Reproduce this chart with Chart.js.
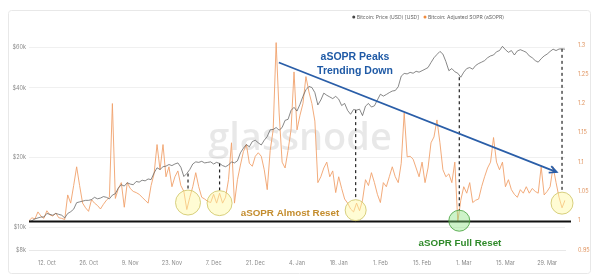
<!DOCTYPE html>
<html>
<head>
<meta charset="utf-8">
<script src="https://cdn.jsdelivr.net/npm/chart.js@4/dist/chart.umd.min.js"></script>
<style>
  html, body { margin: 0; padding: 0; background: #fff; }
</style>
</head>
<body>
<canvas id="chart" width="600" height="278"></canvas>
<script>
// daily values, 6 Oct 2020 .. 4 Apr 2021
const startDay = new Date(2020, 9, 6)
const months = ['Jan','Feb','Mar','Apr','May','Jun','Jul','Aug','Sep','Oct','Nov','Dec']

const asopr = [
  1.000,1.005,1.003,1.015,1.008,1.004,1.017,1.010,1.008,1.013,
  1.005,1.004,1.002,1.044,1.030,1.060,1.092,1.060,1.030,1.022,
  1.016,1.036,1.030,1.026,1.020,1.028,1.035,1.040,1.200,1.038,
  1.055,1.065,1.023,1.065,1.055,1.050,1.048,1.045,1.040,1.035,
  1.030,1.060,1.080,1.130,1.087,1.130,1.075,1.092,1.058,1.075,
  1.085,1.060,1.050,1.019,1.040,1.058,1.082,1.058,1.040,1.037,
  1.033,1.031,1.045,1.030,1.047,1.030,1.040,1.070,1.133,1.030,
  1.070,1.095,1.118,1.130,1.098,1.093,1.110,1.116,1.110,1.087,
  1.053,1.120,1.155,1.304,1.184,1.100,1.090,1.120,1.155,1.254,
  1.155,1.180,1.200,1.246,1.220,1.200,1.170,1.065,1.075,1.090,
  1.100,1.075,1.085,1.048,1.075,1.055,1.037,1.030,1.020,1.015,
  1.030,1.017,1.035,1.070,1.060,1.082,1.065,1.045,1.031,1.065,
  1.058,1.075,1.092,1.075,1.065,1.098,1.184,1.109,1.110,1.105,
  1.090,1.075,1.100,1.065,1.090,1.133,1.143,1.172,1.133,1.087,
  1.075,1.080,1.065,1.100,0.998,1.035,1.058,1.047,1.065,1.031,
  1.035,1.037,1.058,1.075,1.090,1.100,1.142,1.100,1.087,1.100,
  1.058,1.070,1.053,1.045,1.040,1.053,1.047,1.058,1.047,1.055,
  1.050,1.047,1.092,1.044,1.050,1.058,1.092,1.065,1.040,1.022,
  1.035
]

const price = [
  10600,10700,10900,11000,11100,11100,11500,11400,11300,11500,
  11400,11300,11000,11500,11700,12000,12800,12900,13000,13100,
  13100,13200,13500,13300,13400,13600,13500,13300,13800,14000,
  14800,15300,15100,15600,15400,15300,15800,15700,16000,15900,
  16200,16100,17200,18100,17800,18300,18400,18700,18500,18800,
  19000,18200,16600,17100,17800,18800,19200,19100,19300,19000,
  19100,19200,18800,19100,18900,18500,18300,18600,19200,19000,
  19400,21000,22000,22800,22300,23500,23800,23200,22700,23800,
  24700,26400,26500,27000,26300,27000,29000,29300,32000,33000,
  31800,34000,36800,39300,40600,40200,38200,33800,35500,38000,
  37200,36600,36000,36800,35800,33600,34300,32000,30800,32300,
  32100,32400,30400,33400,34300,33100,33500,35500,37600,36900,
  37500,38200,38800,39000,40500,45000,46200,46000,46700,46300,
  47200,46800,47500,48200,49000,51500,54000,55800,57500,56000,
  52000,47500,48500,47000,46300,44500,46800,48500,49000,48200,
  50000,51000,51700,52500,54000,55000,55500,57300,58000,60500,
  58500,57000,58000,55500,57800,58500,57800,57000,55000,54000,
  52500,51700,53500,55000,56000,57500,58800,58000,58900,59000,
  58800
]

const priceTicks = [8000, 10000, 20000, 40000, 60000]
const soprTicks = [0.95, 1, 1.05, 1.1, 1.15, 1.2, 1.25, 1.3]

let labels = []
for (let i = 0; i < asopr.length; i++) {
  let d = new Date(startDay.getTime())
  d.setDate(d.getDate() + i)
  labels.push(d.getDate() + '. ' + months[d.getMonth()])
}

// annotation spots, in day index / aSOPR value
const resetCircles = [
  { i: 53.4, v: 1.031, r: 12.5, green: false },
  { i: 64.0, v: 1.030, r: 12.5, green: false },
  { i: 109.7, v: 1.018, r: 10.5, green: false },
  { i: 144.5, v: 1.000, r: 10.5, green: true },
  { i: 179.0, v: 1.030, r: 11, green: false }
]
const peakArrow = { from: { i: 83.9, v: 1.27 }, to: { i: 177.2, v: 1.083 } }

const annotations = {
  id: 'annotations',
  beforeDraw(chart) {
    const c = chart.ctx
    c.save()
    c.strokeStyle = '#e8e8e8'
    c.lineWidth = 1
    c.beginPath()
    c.roundRect(8.5, 10.5, 582, 263, 3)
    c.stroke()
    c.restore()
  },
  beforeDatasetsDraw(chart) {
    const c = chart.ctx
    c.save()
    c.fillStyle = 'rgba(0,0,0,0.09)'
    c.font = '600 38px "Open Sans"'
    c.textAlign = 'center'
    c.textBaseline = 'alphabetic'
    c.fillText('glassnode', 300, 150)
    c.restore()
  },
  afterDatasetsDraw(chart) {
    const c = chart.ctx
    const x = chart.scales.x, yp = chart.scales.yPrice, ys = chart.scales.ySopr
    c.save()

    // aSOPR = 1 line
    let y1 = Math.round(ys.getPixelForValue(1)) + 0.5
    c.strokeStyle = '#111'
    c.lineWidth = 2
    c.beginPath()
    c.moveTo(x.getPixelForValue(0), y1)
    c.lineTo(chart.chartArea.right + 6, y1)
    c.stroke()

    // dashed drops from price to the circles
    c.setLineDash([3, 3])
    c.lineWidth = 1.2
    c.strokeStyle = '#222'
    resetCircles.forEach(rc => {
      let px = x.getPixelForValue(rc.i)
      let top = yp.getPixelForValue(price[Math.round(rc.i)])
      let bot = ys.getPixelForValue(rc.v) - rc.r
      c.beginPath()
      c.moveTo(px, top)
      c.lineTo(px, bot)
      c.stroke()
    })
    c.setLineDash([])

    // circles
    resetCircles.forEach(rc => {
      let px = x.getPixelForValue(rc.i), py = ys.getPixelForValue(rc.v)
      c.beginPath()
      c.arc(px, py, rc.r, 0, Math.PI * 2)
      c.fillStyle = rc.green ? 'rgba(130,225,120,0.4)' : 'rgba(255,248,160,0.45)'
      c.strokeStyle = rc.green ? 'rgba(70,160,60,0.8)' : 'rgba(205,195,100,0.8)'
      c.lineWidth = 1
      c.fill()
      c.stroke()
    })

    // peaks arrow
    let ax = x.getPixelForValue(peakArrow.from.i), ay = ys.getPixelForValue(peakArrow.from.v)
    let bx = x.getPixelForValue(peakArrow.to.i), by = ys.getPixelForValue(peakArrow.to.v)
    c.strokeStyle = '#2a5ea8'
    c.lineWidth = 1.8
    c.beginPath()
    c.moveTo(ax, ay)
    c.lineTo(bx, by)
    let ang = Math.atan2(by - ay, bx - ax)
    c.moveTo(bx - 8 * Math.cos(ang - 0.45), by - 8 * Math.sin(ang - 0.45))
    c.lineTo(bx, by)
    c.lineTo(bx - 8 * Math.cos(ang + 0.45), by - 8 * Math.sin(ang + 0.45))
    c.stroke()

    // texts
    c.textAlign = 'center'
    c.textBaseline = 'middle'
    c.font = 'bold 10.5px "Liberation Sans"'
    c.fillStyle = '#1f5aa6'
    c.fillText('aSOPR Peaks', 355, 57)
    c.fillText('Trending Down', 355, 71)
    c.font = 'bold 9.8px "Liberation Sans"'
    c.fillStyle = '#c48d2e'
    c.fillText('aSOPR Almost Reset', 290, 213)
    c.fillStyle = '#2f8a2a'
    c.fillText('aSOPR Full Reset', 460, 243)
    c.restore()
  },
  afterDraw(chart) {
    // legend, right aligned like the glassnode header
    const c = chart.ctx
    const items = [
      { text: 'Bitcoin: Price (USD) [USD]', dot: '#444' },
      { text: 'Bitcoin: Adjusted SOPR (aSOPR)', dot: '#f08a3c' }
    ]
    c.save()
    c.font = '5px Inter'
    c.textBaseline = 'middle'
    let xr = 504
    for (let k = items.length - 1; k >= 0; k--) {
      let w = c.measureText(items[k].text).width
      let tx = xr - w
      c.fillStyle = '#666'
      c.fillText(items[k].text, tx, 17)
      c.fillStyle = items[k].dot
      c.beginPath(); c.arc(tx - 3, 17, 1.5, 0, Math.PI * 2); c.fill()
      xr = tx - 9
    }
    c.restore()
  }
}

var ctx = document.getElementById('chart').getContext('2d')
var myChart = new Chart(ctx, {
  type: 'line',
  data: {
    labels: labels,
    datasets: [{
      label: 'Bitcoin: Price (USD) [USD]',
      data: price,
      yAxisID: 'yPrice',
      borderColor: '#555',
      borderWidth: 0.7,
      pointRadius: 0,
      tension: 0
    }, {
      label: 'Bitcoin: Adjusted SOPR (aSOPR)',
      data: asopr,
      yAxisID: 'ySopr',
      borderColor: '#f0a26c',
      borderWidth: 0.9,
      pointRadius: 0,
      tension: 0
    }]
  },
  options: {
    responsive: false,
    animation: false,
    layout: { padding: { left: 8, right: 10, top: 35, bottom: 10 } },
    plugins: { legend: { display: false }, tooltip: { enabled: false } },
    scales: {
      x: {
        grid: { display: false },
        border: { color: '#e8e8e8' },
        afterFit: s => { s.height = 18 },
        ticks: {
          autoSkip: false,
          maxRotation: 0,
          padding: 2,
          color: '#8a8a8a',
          font: { family: 'Inter', size: 5.5 },
          callback: function(val, idx) {
            return (idx - 6) % 14 === 0 ? this.getLabelForValue(val) : null
          }
        }
      },
      yPrice: {
        type: 'logarithmic',
        position: 'left',
        min: 8000,
        max: 67700,
        afterFit: s => { s.width = 21 },
        afterBuildTicks: s => { s.ticks = priceTicks.map(v => ({ value: v })) },
        grid: { color: '#f0f0f0', drawTicks: false },
        border: { display: false },
        ticks: {
          padding: 3,
          color: '#8a8a8a',
          font: { family: 'Inter', size: 5.5 },
          callback: v => '$' + (v / 1000) + 'k'
        }
      },
      ySopr: {
        type: 'linear',
        position: 'right',
        min: 0.95,
        max: 1.317,
        afterFit: s => { s.width = 25 },
        afterBuildTicks: s => { s.ticks = soprTicks.map(v => ({ value: v })) },
        grid: { display: false },
        border: { display: false },
        ticks: {
          padding: 5,
          color: '#e0935e',
          font: { family: 'Inter', size: 5.5 },
          callback: v => String(v)
        }
      }
    }
  },
  plugins: [annotations]
})
</script>
</body>
</html>
